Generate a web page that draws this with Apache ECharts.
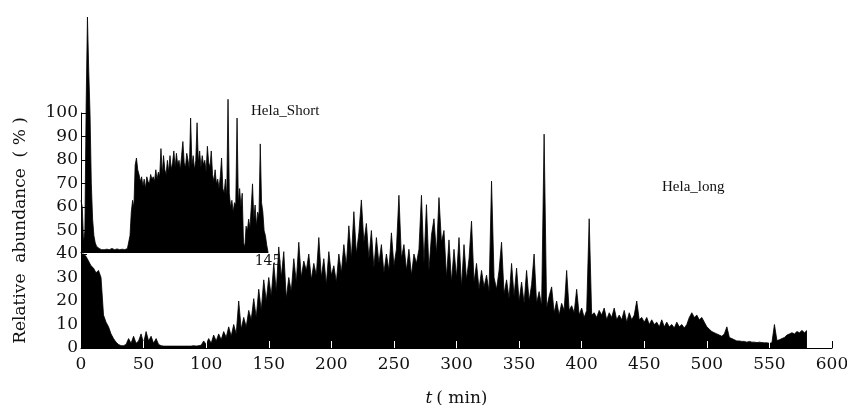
<!DOCTYPE html>
<html lang="en">
<head>
    <meta charset="UTF-8">
    <title>Hela chromatogram</title>
    <script src="https://cdn.jsdelivr.net/npm/echarts@6/dist/echarts.min.js"></script>
    <style>
        html, body { margin: 0; padding: 0; background: #fff; }
        #chart { width: 847px; height: 405px; }
    </style>
</head>
<body>
<div id="chart"></div>
<script>
    // Hela_long: one value every 2 min, t = 0 .. 580
    var longStep = 2;
    var longValues = [
        40, 40, 39, 37, 35, 34, 32, 33, 30, 14,
        11, 9, 6, 4, 2.5, 1.5, 1, 1, 1.5, 4,
        2, 5, 2, 3, 6, 2, 7, 3, 5, 2,
        4, 1.5, 1, 0.8, 0.8, 0.8, 0.8, 0.8, 0.8, 0.8,
        0.8, 0.8, 0.8, 0.8, 0.8, 1, 0.8, 1, 1.2, 3,
        1.5, 4, 2, 5.5, 3, 6, 3.5, 7, 4.5, 9,
        5, 10, 6, 20, 8, 13, 9, 16, 12, 21,
        13, 25, 16, 29, 20, 30, 22, 36, 24, 43,
        30, 41, 21, 30, 24, 38, 28, 45, 30, 37,
        33, 40, 29, 36, 31, 47, 30, 38, 27, 41,
        31, 35, 28, 40, 32, 44, 35, 52, 38, 58,
        40, 49, 63, 45, 53, 38, 50, 34, 47, 36,
        44, 32, 40, 33, 49, 35, 42, 65, 38, 44,
        33, 42, 31, 40, 36, 42, 65, 36, 61, 33,
        48, 55, 40, 64, 45, 50, 30, 46, 28, 42,
        30, 47, 26, 44, 29, 38, 54, 28, 36, 25,
        33, 26, 31, 24, 71, 30, 25, 33, 45, 23,
        29, 21, 36, 22, 34, 20, 28, 19, 33, 20,
        27, 40, 19, 24, 18, 91, 17, 22, 26, 15,
        20, 14, 19, 16, 33, 16, 18, 15, 25, 14,
        17, 13, 16, 55, 14, 15, 13, 16, 14, 17,
        12, 15, 13, 17, 12, 14, 12, 16, 11, 15,
        12, 14, 20, 12, 13, 11, 13, 10, 12, 10,
        11, 9, 12, 9, 11, 9, 10, 8.5, 11, 9,
        10, 8.5, 10, 13, 15, 13, 14, 12, 13, 11,
        9, 8, 7, 6.5, 6, 5.5, 5, 6, 9, 4.5,
        4, 3.5, 3, 3, 2.8, 2.8, 2.5, 2.8, 2.5, 2.5,
        2.3, 2.5, 2.3, 2.2, 2.2, 2, 2.2, 10, 3.2, 3.5,
        4, 4.5, 5.5, 6, 6.5, 6, 7, 6.5, 7.5, 6.5,
        7.5
    ];

    // Hela_Short (inset): one value per minute, t = 0 .. 145, read on the main % scale
    var shortStep = 1;
    var shortValues = [
        63, 60, 45, 50, 104, 141, 118, 100, 70, 55,
        48, 45, 43.5, 43, 42.5, 42, 42, 42.3, 42, 42,
        42.2, 42, 42, 42.3, 42.5, 42.2, 42, 42, 42.3, 42,
        42, 42, 42.2, 42, 42, 42.3, 42.5, 43, 48, 58,
        63, 60, 78, 81, 76, 74, 71, 73, 69, 72,
        68, 73, 71, 70, 74, 72, 73, 71, 76, 72,
        75, 73, 85, 74, 82, 76, 74, 80, 75, 82,
        76, 79, 84, 77, 83, 78, 80, 76, 82, 88,
        79, 77, 83, 80, 76, 98, 78, 82, 76, 80,
        96, 79, 84, 77, 82, 78, 80, 75, 86, 79,
        77, 84, 74, 71, 76, 70, 72, 68, 73, 81,
        68, 66, 72, 64, 106, 66, 60, 63, 58, 62,
        61, 98, 62, 68, 60, 66, 45, 43, 52, 50,
        55, 51, 60, 70, 55, 61, 52, 58, 56, 87,
        62, 58, 50, 48, 44, 41
    ];

    var xTicks = [0, 600, 50];     // min, max, interval
    var yTicks = [0, 100, 10];
    var shortRange = [0, 145];
    var shortY = [41, 141];
    var seriesNames = ['Hela_long', 'Hela_Short'];

    function toPairs(values, step) {
        return values.map(function (v, i) { return [i * step, v]; });
    }

    var serif = 'DejaVu Serif';
    var chart = echarts.init(document.getElementById('chart'));

    var option = {
        animation: false,
        backgroundColor: '#fff',
        title: [
            {text: seriesNames[1], left: 246, top: 99,
                textStyle: {fontFamily: 'Liberation Serif', fontSize: 15, fontWeight: 'normal', color: '#111'}},
            {text: seriesNames[0], left: 657, top: 175,
                textStyle: {fontFamily: 'Liberation Serif', fontSize: 15, fontWeight: 'normal', color: '#111'}}
        ],
        grid: [
            {left: 81, right: 15, top: 113, bottom: 57, outerBoundsMode: 'none'},
            {left: 81, width: 187, top: 17, height: 235, outerBoundsMode: 'none'}
        ],
        xAxis: [
            {
                type: 'value', gridIndex: 0, position: 'bottom',
                min: xTicks[0], max: xTicks[1], interval: xTicks[2], z: 5,
                name: '{i|t}( min)', nameLocation: 'middle', nameGap: 42,
                nameTextStyle: {fontFamily: serif, fontSize: 17, color: '#111',
                    rich: {i: {fontFamily: serif, fontStyle: 'italic', fontSize: 17, color: '#111', padding: [0, 4, 0, 0]}}},
                axisLine: {show: true, lineStyle: {color: '#000', width: 1}},
                axisTick: {show: true, inside: true, length: 7, lineStyle: {color: '#fff', width: 1}},
                axisLabel: {fontFamily: serif, fontSize: 17, color: '#111', margin: 8},
                splitLine: {show: false}
            },
            {
                type: 'value', gridIndex: 1, position: 'bottom',
                min: shortRange[0], max: shortRange[1], interval: shortRange[1], z: 5,
                axisLine: {show: true, lineStyle: {color: '#000', width: 1}},
                axisTick: {show: false},
                axisLabel: {fontFamily: serif, fontSize: 14, color: '#111', margin: 2,
                    formatter: function (v) { return v === shortRange[1] ? String(v) : ''; }},
                splitLine: {show: false}
            },
            {
                // black tick at the right end of the main axis
                type: 'value', gridIndex: 0, position: 'bottom',
                min: xTicks[0], max: xTicks[1], interval: xTicks[1], z: 6,
                axisLine: {show: false},
                axisTick: {show: true, inside: true, length: 7, lineStyle: {color: '#000', width: 1}},
                axisLabel: {show: false},
                splitLine: {show: false}
            }
        ],
        yAxis: [
            {
                type: 'value', gridIndex: 0, min: yTicks[0], max: yTicks[1], interval: yTicks[2], z: 5,
                name: 'Relative  abundance  ( % )', nameLocation: 'middle', nameGap: 52,
                nameTextStyle: {fontFamily: serif, fontSize: 17, color: '#111'},
                axisLine: {show: true, lineStyle: {color: '#000', width: 1}},
                axisTick: {show: true, inside: true, length: 6, lineStyle: {color: '#000', width: 1}},
                axisLabel: {fontFamily: serif, fontSize: 17, color: '#111', margin: 3},
                splitLine: {show: false}
            },
            {type: 'value', gridIndex: 1, min: shortY[0], max: shortY[1], show: false}
        ],
        series: [
            {
                name: seriesNames[0], type: 'line', xAxisIndex: 0, yAxisIndex: 0,
                data: toPairs(longValues, longStep),
                symbol: 'none', sampling: null,
                lineStyle: {color: '#000', width: 0.8},
                areaStyle: {color: '#000', opacity: 1, origin: 'start'}
            },
            {
                name: seriesNames[1], type: 'line', xAxisIndex: 1, yAxisIndex: 1,
                data: toPairs(shortValues, shortStep),
                symbol: 'none', clip: false,
                lineStyle: {color: '#000', width: 0.8},
                areaStyle: {color: '#000', opacity: 1, origin: 'start'}
            }
        ]
    };
    chart.setOption(option);
</script>
</body>
</html>
